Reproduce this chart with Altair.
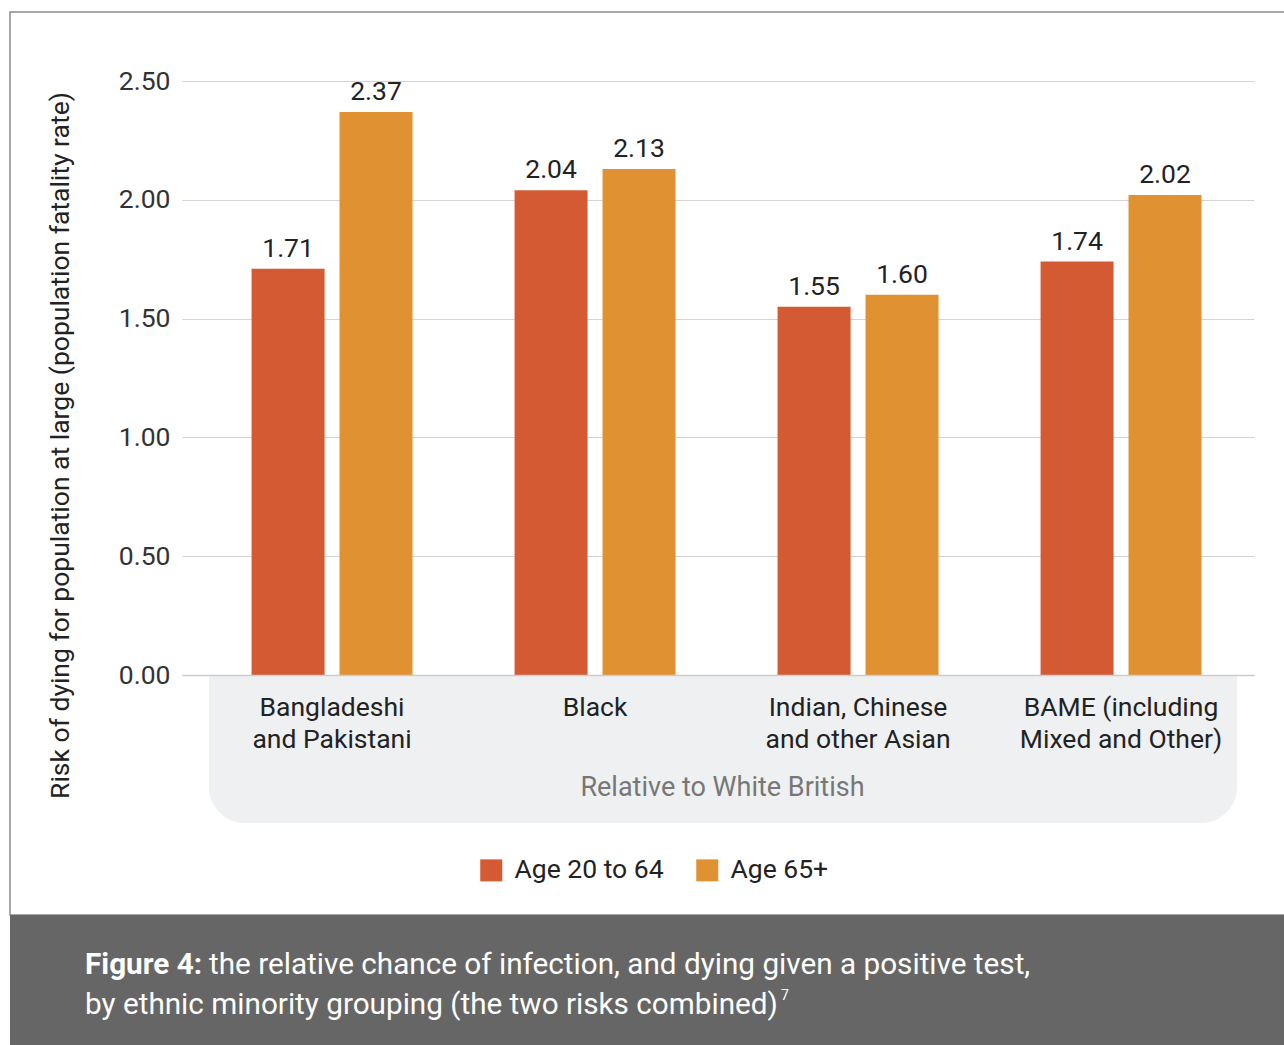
import altair as alt
import pandas as pd

# Risk of dying relative to White British, by ethnic grouping and age band
categories = [
    "Bangladeshi\nand Pakistani",
    "Black",
    "Indian, Chinese\nand other Asian",
    "BAME (including\nMixed and Other)",
]
series = ["Age 20 to 64", "Age 65+"]
age_20_64 = [1.71, 2.04, 1.55, 1.74]
age_65_plus = [2.37, 2.13, 1.60, 2.02]
colors = ["#D35A32", "#E09132"]
y_ticks = [0, 0.5, 1.0, 1.5, 2.0, 2.5]

rows = []
for cat, a, b in zip(categories, age_20_64, age_65_plus):
    rows.append({"group": cat, "age": series[0], "risk": a})
    rows.append({"group": cat, "age": series[1], "risk": b})
df = pd.DataFrame(rows)

FONT = "Roboto"
W, H = 1072, 594
LEFT, TOP = 182, 81
FS = 26.5

x_enc = alt.X(
    "group:N",
    sort=categories,
    scale=alt.Scale(paddingInner=0.388, paddingOuter=0.232, align=0.57),
    axis=alt.Axis(
        title="Relative to White British",
        titleColor="#777777",
        titleFontSize=27,
        titleFontWeight="normal",
        titleFont=FONT,
        titleAlign="center",
        titleBaseline="middle",
        titleX=540,
        titleY=112,
        labelExpr="split(datum.value, '\\n')",
        labelAngle=0,
        labelFont=FONT,
        labelFontSize=FS,
        labelColor="#222222",
        labelLineHeight=32,
        labelPadding=19,
        labelLimit=400,
        ticks=False,
        domain=True,
        domainColor="#cccccc",
        domainWidth=1.5,
        zindex=1,
    ),
)
y_scale = alt.Scale(domain=[0, 2.5], nice=False)
y_enc = alt.Y(
    "risk:Q",
    scale=y_scale,
    axis=alt.Axis(
        title="Risk of dying for population at large (population fatality rate)",
        titleFont=FONT,
        titleFontSize=FS,
        titleFontWeight="normal",
        titleColor="#222222",
        titleAngle=270,
        titleAlign="center",
        titleBaseline="middle",
        titleX=-122,
        titleY=364,
        values=y_ticks,
        format=".2f",
        labelFont=FONT,
        labelFontSize=FS,
        labelColor="#333333",
        labelPadding=12,
        ticks=False,
        domain=False,
        gridColor="#d4d4d4",
        gridWidth=1.2,
    ),
)
xoff = alt.XOffset(
    "age:N", sort=series, scale=alt.Scale(paddingInner=0.17, paddingOuter=0)
)

one = alt.Data(values=[{}])

# grey panel behind the category labels
panel = alt.Chart(one).mark_rect(
    color="#eff0f2", cornerRadiusBottomLeft=36, cornerRadiusBottomRight=36
).encode(
    x=alt.value(209 - LEFT), x2=alt.value(1237 - LEFT),
    y=alt.value(H), y2=alt.value(823 - TOP),
)

# thin frame around the figure and dark caption strip
frame = alt.Chart(one).mark_rect(
    fillOpacity=0, stroke="#8a8a8a", strokeWidth=1.5
).encode(
    x=alt.value(10 - LEFT), x2=alt.value(1300 - LEFT),
    y=alt.value(12 - TOP), y2=alt.value(915 - TOP),
)
strip = alt.Chart(one).mark_rect(color="#666666").encode(
    x=alt.value(10 - LEFT), x2=alt.value(1300 - LEFT),
    y=alt.value(915 - TOP), y2=alt.value(1060 - TOP),
)

bars = alt.Chart(df).mark_bar().encode(
    x=x_enc,
    xOffset=xoff,
    y=y_enc,
    color=alt.Color(
        "age:N",
        sort=series,
        scale=alt.Scale(domain=series, range=colors),
        legend=alt.Legend(
            title=None,
            orient="none",
            direction="horizontal",
            legendX=296,
            legendY=776,
            symbolType="square",
            symbolSize=484,
            symbolStrokeWidth=0,
            labelFont=FONT,
            labelFontSize=FS,
            labelColor="#222222",
            labelOffset=10,
            labelLimit=400,
            columnPadding=30,
        ),
    ),
)

labels = alt.Chart(df).mark_text(
    font=FONT, fontSize=FS, color="#222222", baseline="bottom", dy=-6
).encode(
    x=alt.X("group:N", sort=categories),
    xOffset=xoff,
    y=alt.Y("risk:Q", scale=y_scale),
    text=alt.Text("risk:Q", format=".2f"),
)

def caption(text, x, y, size=29.7, weight="normal"):
    return alt.Chart(one).mark_text(
        text=text, font=FONT, fontSize=size, fontWeight=weight,
        color="white", align="left", baseline="middle",
    ).encode(x=alt.value(x - LEFT), y=alt.value(y - TOP))

cap = (
    caption("Figure 4:", 85, 965, weight="bold")
    + caption("the relative chance of infection, and dying given a positive test,", 209, 965)
    + caption("by ethnic minority grouping (the two risks combined)", 85, 1005)
    + caption("7", 781, 996, size=14)
)

chart = (
    alt.layer(frame, strip, panel, bars, labels, cap)
    .properties(
        width=W,
        height=H,
        padding={"left": LEFT, "top": TOP, "right": 1284 - LEFT - W, "bottom": 1045 - TOP - H},
        autosize=alt.AutoSizeParams(type="none"),
        background="white",
    )
    .configure_view(stroke=None)
)

chart.save("out.html", embed_options={"renderer": "svg", "actions": False})
